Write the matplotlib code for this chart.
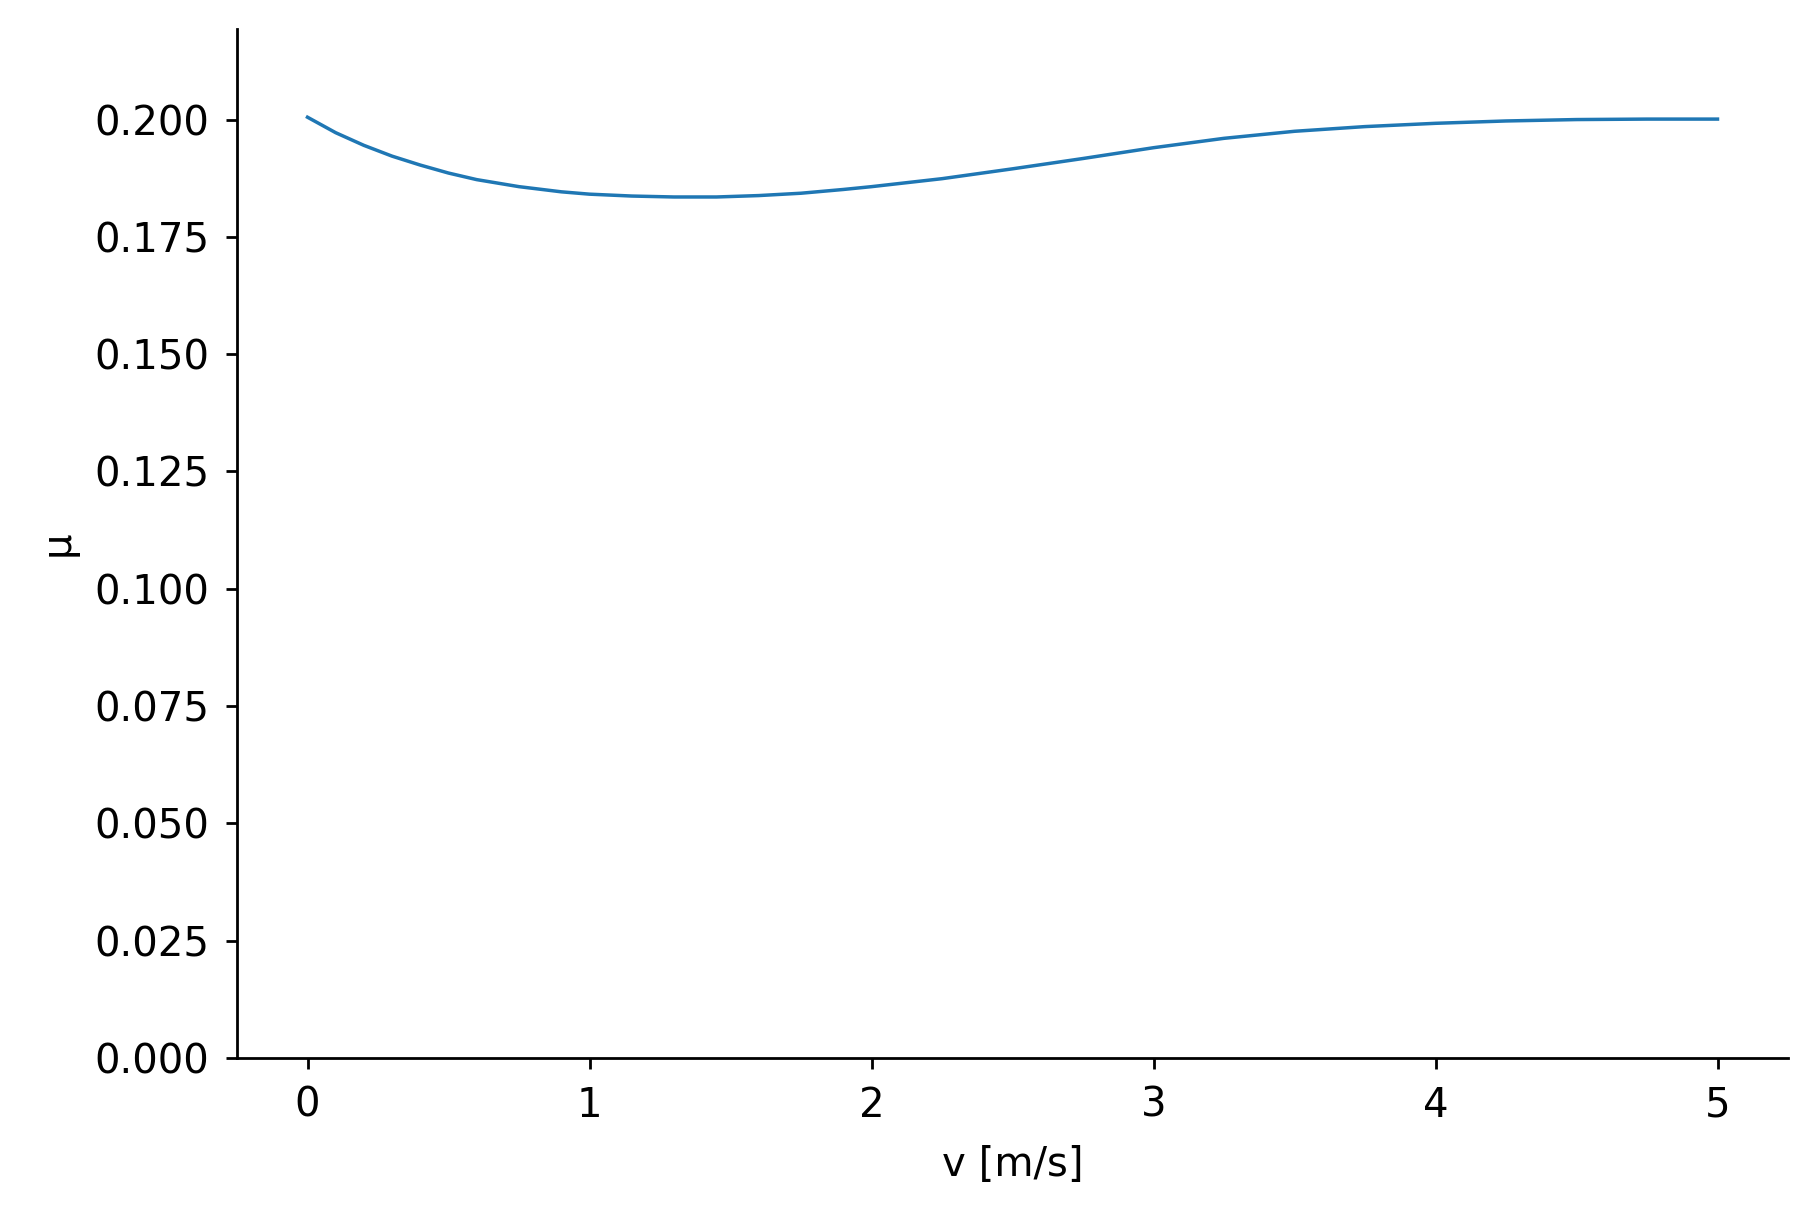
import matplotlib
matplotlib.use('Agg')
import matplotlib.pyplot as plt

matplotlib.rc('font', **{'size': 29})

# friction coefficient vs velocity
v = [0.0, 0.1, 0.2, 0.3, 0.4, 0.5, 0.6, 0.75, 0.9, 1.0, 1.15, 1.3, 1.45, 1.6, 1.75,
     1.9, 2.0, 2.25, 2.5, 2.75, 3.0, 3.25, 3.5, 3.75, 4.0, 4.25, 4.5, 4.75, 5.0]
mu = [0.2005, 0.1972, 0.1945, 0.1922, 0.1903, 0.1886, 0.1872, 0.1857, 0.1846, 0.1841,
      0.1837, 0.1835, 0.1835, 0.1838, 0.1843, 0.1851, 0.1857, 0.1874, 0.1895, 0.1917,
      0.1940, 0.1960, 0.1975, 0.1985, 0.1992, 0.1997, 0.2000, 0.2001, 0.2001]

fig = plt.figure(figsize=(18.11, 12.08), dpi=100)
ax = fig.add_axes([237/1811, 1 - 1058/1208, (1788-237)/1811, (1058-29)/1208])
ax.plot(v, mu, color='#1f77b4', lw=2.5)
ax.set_xlim(-0.25, 5.25)
ax.set_ylim(0, 0.2193)
ax.set_yticks([i * 0.025 for i in range(9)])
ax.set_xlabel('v [m/s]', labelpad=14)
ax.set_ylabel('μ', labelpad=12)
ax.spines['top'].set_visible(False)
ax.spines['right'].set_visible(False)
for s in ax.spines.values():
    s.set_linewidth(2)
ax.tick_params(width=2, length=8, pad=12)
fig.savefig('out.png', dpi=100)
